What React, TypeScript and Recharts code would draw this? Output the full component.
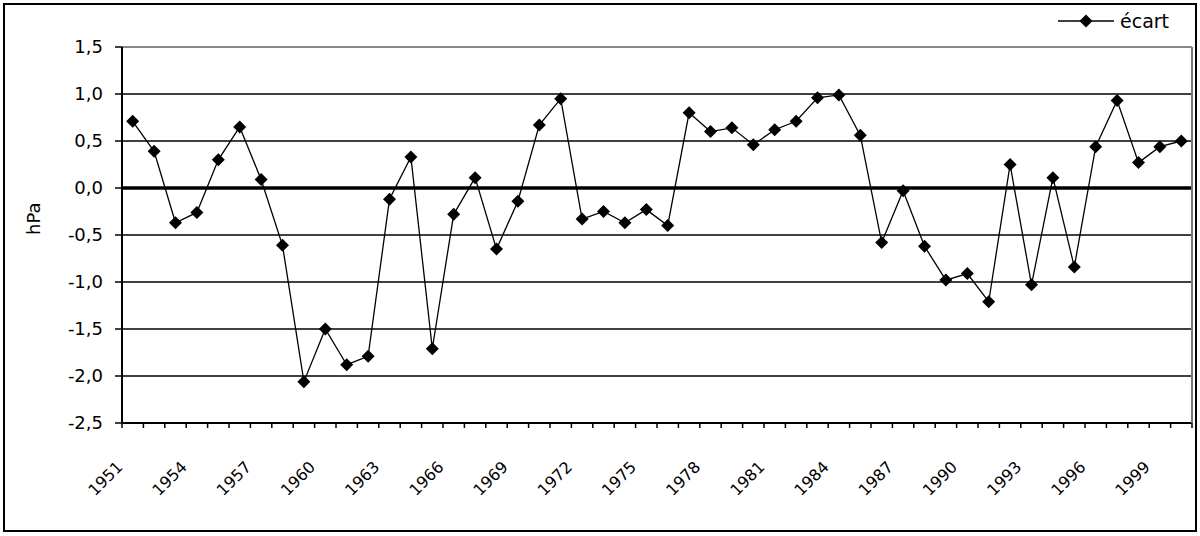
import React from 'react';
import { LineChart, Line, CartesianGrid, XAxis, YAxis, ReferenceLine } from 'recharts';

const years: number[] = [
  1951, 1952, 1953, 1954, 1955, 1956, 1957, 1958, 1959, 1960,
  1961, 1962, 1963, 1964, 1965, 1966, 1967, 1968, 1969, 1970,
  1971, 1972, 1973, 1974, 1975, 1976, 1977, 1978, 1979, 1980,
  1981, 1982, 1983, 1984, 1985, 1986, 1987, 1988, 1989, 1990,
  1991, 1992, 1993, 1994, 1995, 1996, 1997, 1998, 1999, 2000,
];

const ecart: number[] = [
  0.71, 0.39, -0.37, -0.26, 0.3, 0.65, 0.09, -0.61, -2.06, -1.5,
  -1.88, -1.79, -0.12, 0.33, -1.71, -0.28, 0.11, -0.65, -0.14, 0.67,
  0.95, -0.33, -0.25, -0.37, -0.23, -0.4, 0.8, 0.6, 0.64, 0.46,
  0.62, 0.71, 0.96, 0.99, 0.56, -0.58, -0.03, -0.62, -0.98, -0.91,
  -1.21, 0.25, -1.03, 0.11, -0.84, 0.44, 0.93, 0.27, 0.44, 0.5,
];

const yTicks: number[] = [-2.5, -2, -1.5, -1, -0.5, 0, 0.5, 1, 1.5];
const gridValues: number[] = [-2, -1.5, -1, -0.5, 0.5, 1];

const data = years.map((y, i) => ({ year: String(y), ecart: ecart[i] }));

const FONT = '"DejaVu Sans", sans-serif';

const fmt = (v: number) => v.toFixed(1).replace('.', ',');

const Diamond = (props: any) => {
  const { cx, cy } = props;
  if (cx == null || cy == null) return null;
  const r = 6.5;
  return (
    <polygon
      points={`${cx},${cy - r} ${cx + r},${cy} ${cx},${cy + r} ${cx - r},${cy}`}
      fill="#000"
      stroke="none"
    />
  );
};

const XTick = (props: any) => {
  const { x, y, payload, index } = props;
  const half = payload && payload.offset ? payload.offset : 10.7;
  const last = index === years.length - 1;
  return (
    <g>
      <line x1={x - half} x2={x - half} y1={y - 5} y2={y} stroke="#000" strokeWidth={1.5} />
      {last && <line x1={x + half} x2={x + half} y1={y - 5} y2={y} stroke="#000" strokeWidth={1.5} />}
      {index % 3 === 0 && (
        <text
          x={x - 9}
          y={y + 40}
          transform={`rotate(-45, ${x - 9}, ${y + 40})`}
          textAnchor="end"
          fontFamily={FONT}
          fontSize={16}
          fill="#000"
        >
          {payload.value}
        </text>
      )}
    </g>
  );
};

export default function App() {
  return (
    <div style={{ position: 'absolute', left: 0, top: 0, width: 1200, height: 536, background: '#fff' }}>
      <div
        style={{
          position: 'absolute',
          left: 3,
          top: 3,
          width: 1194,
          height: 529,
          border: '2px solid #000',
          boxSizing: 'border-box',
        }}
      />
      <div style={{ position: 'absolute', left: 0, top: 0 }}>
        <LineChart
          width={1200}
          height={536}
          data={data}
          margin={{ top: 47, right: 0, left: 20, bottom: 43 }}
        >
          <CartesianGrid horizontal vertical={false} horizontalValues={gridValues} stroke="#000" strokeWidth={1.5} />
          <XAxis
            dataKey="year"
            scale="band"
            interval={0}
            tickLine={false}
            tickSize={5}
            tickMargin={0}
            height={70}
            axisLine={{ stroke: '#000', strokeWidth: 2 }}
            tick={<XTick />}
          />
          <YAxis
            domain={[-2.5, 1.5]}
            ticks={yTicks}
            interval={0}
            width={102}
            tickSize={7}
            tickMargin={12}
            tickFormatter={fmt}
            axisLine={{ stroke: '#000', strokeWidth: 2 }}
            tickLine={{ stroke: '#000', strokeWidth: 1.5 }}
            tick={{ fill: '#000', fontSize: 18, fontFamily: FONT }}
            label={{ value: 'hPa', angle: -90, position: 'insideLeft', offset: 14, fill: '#000', fontSize: 18, fontFamily: FONT }}
          />
          <YAxis
            yAxisId="right"
            orientation="right"
            width={8}
            tick={false}
            axisLine={{ stroke: '#777', strokeWidth: 2 }}
            domain={[-2.5, 1.5]}
          />
          <ReferenceLine y={1.5} stroke="#888" strokeWidth={2} />
          <ReferenceLine y={0} stroke="#000" strokeWidth={3.5} />
          <Line
            type="linear"
            dataKey="ecart"
            stroke="#000"
            strokeWidth={1.3}
            dot={<Diamond />}
            activeDot={false}
            isAnimationActive={false}
          />
        </LineChart>
      </div>
      <div
        style={{
          position: 'absolute',
          left: 1058,
          top: 10,
          display: 'flex',
          alignItems: 'center',
          fontFamily: FONT,
          fontSize: 19,
          color: '#000',
        }}
      >
        <svg width={56} height={16}>
          <line x1={0} x2={56} y1={8} y2={8} stroke="#000" strokeWidth={1.5} />
          <polygon points="28,1.5 34.5,8 28,14.5 21.5,8" fill="#000" />
        </svg>
        <span style={{ marginLeft: 6 }}>écart</span>
      </div>
    </div>
  );
}
